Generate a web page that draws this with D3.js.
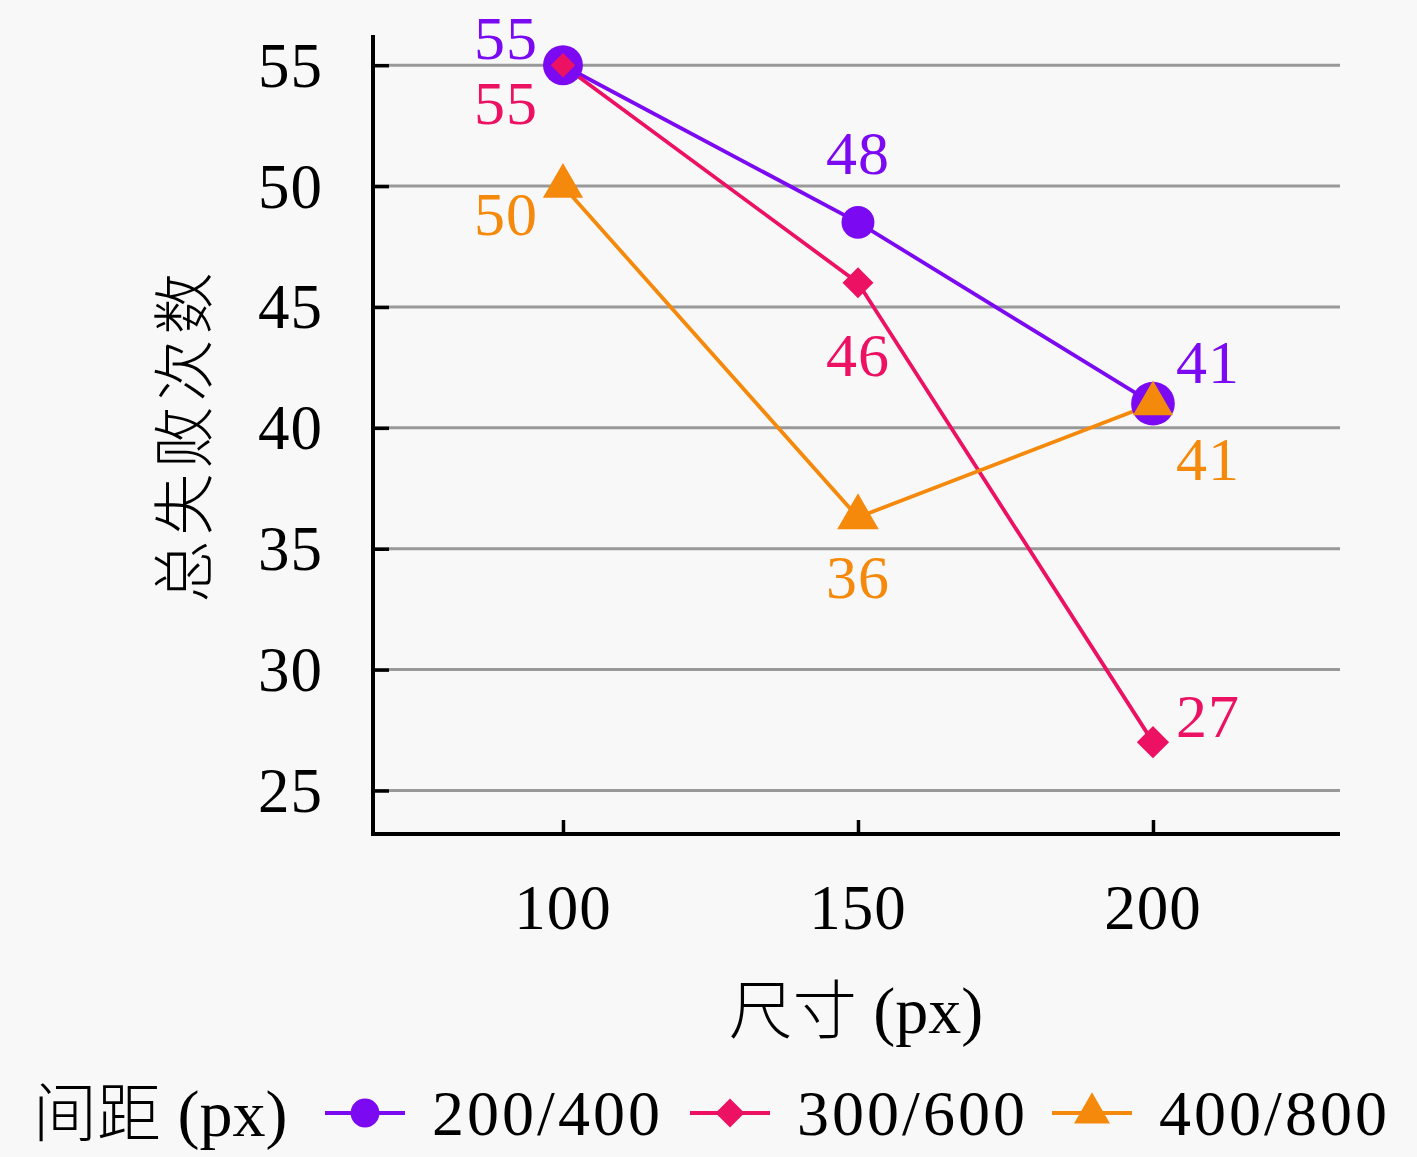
<!DOCTYPE html>
<html>
<head>
<meta charset="utf-8">
<script src="https://cdn.jsdelivr.net/npm/d3@7"></script>
<style>
  body { margin: 0; background: #f8f8f8; }
  svg { display: block; }
  .num { font-family: "Liberation Serif", "DejaVu Serif", serif; }
  .cjk { font-family: "Noto Sans CJK SC", sans-serif; font-weight: 300; }
</style>
</head>
<body>
<div id="chart"></div>
<script>
// chart values
const sizes = [100, 150, 200];
const seriesNames = ['200/400', '300/600', '400/800'];
const failures200 = [55, 48.5, 41];
const failures300 = [55, 46, 27];
const failures400 = [50, 36.3, 41];
const labels200 = ['55', '48', '41'];
const labels300 = ['55', '46', '27'];
const labels400 = ['50', '36', '41'];
const yTicks = [25, 30, 35, 40, 45, 50, 55];
const xTicks = [100, 150, 200];

const W = 1417, H = 1157;
const colors = ['#7b0af2', '#ec1163', '#f5890c'];

// a diamond drawn as a square turned by 45 degrees
const symbolRhomb = {
	draw: function(context, size) {
		const r = Math.sqrt(size / 2);
		context.moveTo(0, -r);
		context.lineTo(r, 0);
		context.lineTo(0, r);
		context.lineTo(-r, 0);
		context.closePath();
	}
};

// build series list
const series = [
	{ name: seriesNames[0], values: failures200, labels: labels200, color: colors[0], shape: d3.symbolCircle },
	{ name: seriesNames[1], values: failures300, labels: labels300, color: colors[1], shape: symbolRhomb },
	{ name: seriesNames[2], values: failures400, labels: labels400, color: colors[2], shape: d3.symbolTriangle }
];

// where the value labels sit around each point (dx, dy)
const labelPlace = [
	[[-57, -27], [0, -69], [55, -42]],
	[[-57, 38], [0, 72], [55, -26]],
	[[-57, 28], [0, 60], [55, 55]]
];
// marker sizes (area) per point
const markerArea = [
	[1250, 850, 1500],
	[300, 480, 520],
	[700, 750, 700]
];

const svg = d3.select('#chart').append('svg')
	.attr('width', W)
	.attr('height', H);

svg.append('rect').attr('width', W).attr('height', H).attr('fill', '#f8f8f8');

const x = d3.scaleLinear().domain([67.8, 231.7]).range([373, 1340]);
const y = d3.scaleLinear().domain([23.2, 56.25]).range([834, 35]);

// gridlines
svg.append('g')
	.selectAll('line')
	.data(yTicks)
	.join('line')
	.attr('x1', x.range()[0])
	.attr('x2', x.range()[1])
	.attr('y1', d => y(d))
	.attr('y2', d => y(d))
	.attr('stroke', '#999')
	.attr('stroke-width', 3);

// y axis, ticks pointing inward
const yAxis = svg.append('g')
	.attr('transform', 'translate(' + x.range()[0] + ',0)')
	.call(d3.axisRight(y).tickValues(yTicks).tickSize(16).tickFormat(''));
yAxis.select('.domain').remove();
yAxis.selectAll('line').attr('stroke', '#000').attr('stroke-width', 3.5);

yAxis.selectAll('.ylab')
	.data(yTicks)
	.join('text')
	.attr('class', 'num')
	.attr('x', -50)
	.attr('y', d => y(d))
	.attr('dy', '0.34em')
	.attr('text-anchor', 'end')
	.attr('font-size', 63)
	.attr('letter-spacing', 1)
	.attr('fill', '#000')
	.text(d => d);

// x axis, ticks pointing inward
const xAxis = svg.append('g')
	.attr('transform', 'translate(0,' + y.range()[0] + ')')
	.call(d3.axisTop(x).tickValues(xTicks).tickSize(14).tickFormat(''));
xAxis.select('.domain').remove();
xAxis.selectAll('line').attr('stroke', '#000').attr('stroke-width', 3.5);

xAxis.selectAll('.xlab')
	.data(xTicks)
	.join('text')
	.attr('class', 'num')
	.attr('x', d => x(d))
	.attr('y', 74)
	.attr('dy', '0.34em')
	.attr('text-anchor', 'middle')
	.attr('font-size', 63)
	.attr('letter-spacing', 1)
	.attr('fill', '#000')
	.text(d => d);

// axis lines
svg.append('path')
	.attr('d', 'M' + x.range()[0] + ',' + y.range()[1] + 'V' + y.range()[0] + 'H' + x.range()[1])
	.attr('fill', 'none')
	.attr('stroke', '#000')
	.attr('stroke-width', 4);

// axis titles
svg.append('text')
	.attr('x', 856).attr('y', 1010)
	.attr('dy', '0.35em')
	.attr('text-anchor', 'middle')
	.attr('font-size', 66)
	.html('<tspan class="cjk" font-size="64">尺寸</tspan><tspan class="num"> (px)</tspan>');

svg.append('text')
	.attr('class', 'cjk')
	.attr('transform', 'translate(185,435) rotate(-90)')
	.attr('dy', '0.35em')
	.attr('text-anchor', 'middle')
	.attr('font-size', 62)
	.attr('letter-spacing', 5)
	.text('总失败次数');

const line = d3.line()
	.x((d, i) => x(sizes[i]))
	.y(d => y(d));

// lines
series.forEach(function(s) {
	svg.append('path')
		.datum(s.values)
		.attr('d', line)
		.attr('fill', 'none')
		.attr('stroke', s.color)
		.attr('stroke-width', 3.8);
});

// markers
series.forEach(function(s, si) {
	svg.append('g')
		.selectAll('path')
		.data(s.values)
		.join('path')
		.attr('transform', (d, i) => 'translate(' + x(sizes[i]) + ',' + y(d) + ')')
		.attr('d', (d, i) => d3.symbol().type(s.shape).size(markerArea[si][i])())
		.attr('fill', s.color);
});

// value labels
series.forEach(function(s, si) {
	svg.append('g')
		.selectAll('text')
		.data(s.values)
		.join('text')
		.attr('class', 'num')
		.attr('x', (d, i) => x(sizes[i]) + labelPlace[si][i][0])
		.attr('y', (d, i) => y(d) + labelPlace[si][i][1])
		.attr('dy', '0.34em')
		.attr('text-anchor', 'middle')
		.attr('font-size', 62)
		.attr('letter-spacing', 1)
		.attr('fill', s.color)
		.text((d, i) => s.labels[i]);
});

// legend
const legendY = 1113;
svg.append('text')
	.attr('x', 33).attr('y', legendY)
	.attr('dy', '0.35em')
	.attr('font-size', 66)
	.html('<tspan class="cjk" font-size="64">间距</tspan><tspan class="num"> (px)</tspan>');

const legendX = [325, 690, 1052];
series.forEach(function(s, i) {
	const g = svg.append('g').attr('transform', 'translate(' + legendX[i] + ',' + legendY + ')');
	g.append('line')
		.attr('x1', 0).attr('x2', 80)
		.attr('stroke', s.color)
		.attr('stroke-width', 3.8);
	g.append('path')
		.attr('transform', 'translate(40,0)')
		.attr('d', d3.symbol().type(s.shape).size(i == 0 ? 650 : i == 1 ? 420 : 560)())
		.attr('fill', s.color);
	g.append('text')
		.attr('class', 'num')
		.attr('x', 107)
		.attr('dy', '0.34em')
		.attr('font-size', 64)
		.attr('textLength', 228)
		.attr('lengthAdjust', 'spacing')
		.attr('fill', '#000')
		.text(s.name);
});
</script>
</body>
</html>
